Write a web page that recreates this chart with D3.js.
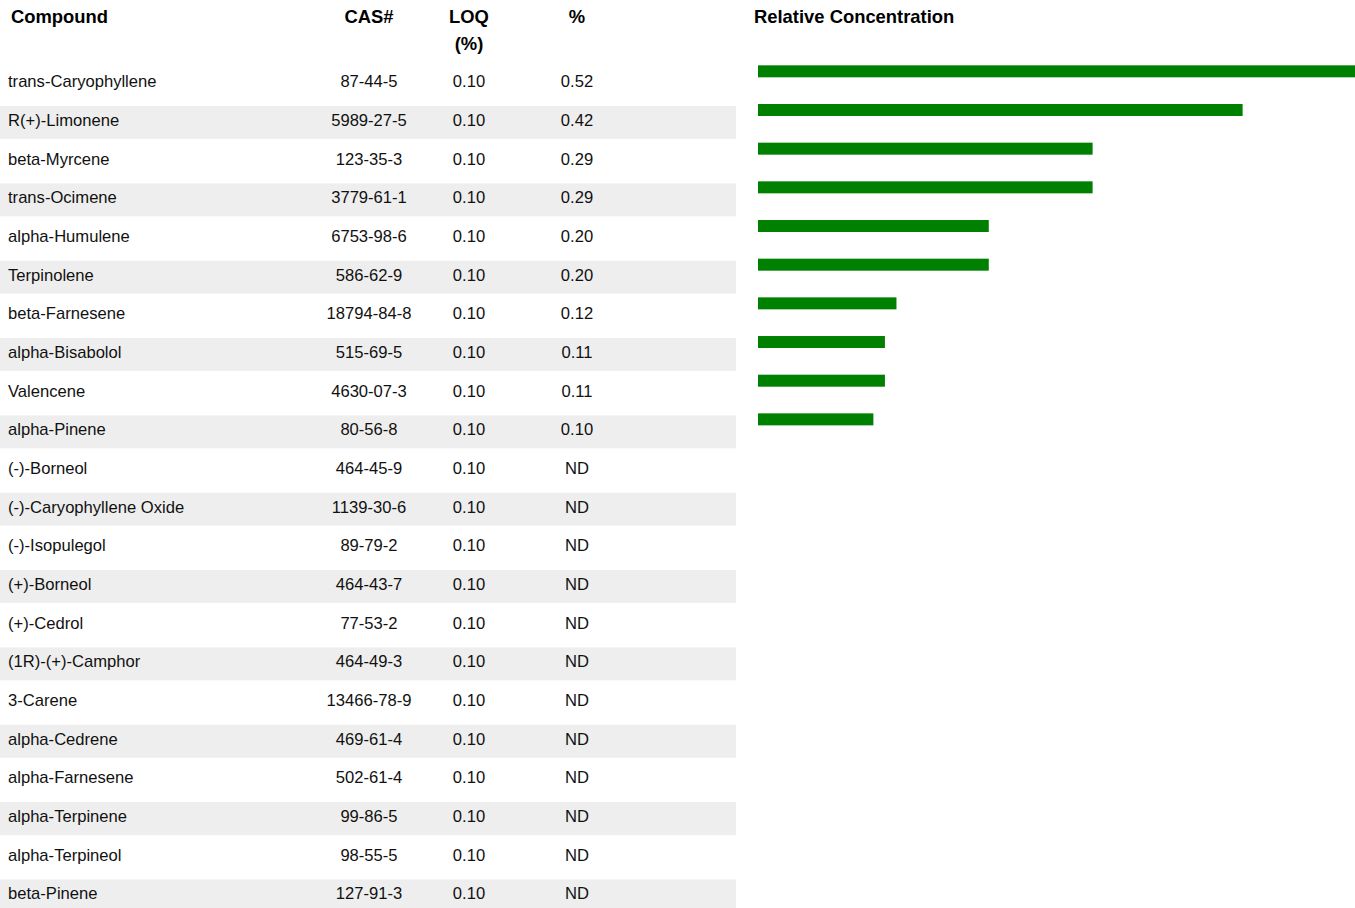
<!DOCTYPE html>
<html>
<head>
<meta charset="utf-8">
<script src="https://cdn.jsdelivr.net/npm/d3@7"></script>
<style>
  body { margin: 0; background: #fff; }
  svg { display: block; font-family: 'Liberation Sans', Arial, sans-serif; }
  .head { font-weight: bold; font-size: 18.4px; fill: #000; }
  .cell { font-size: 16.6px; fill: #111; }
</style>
</head>
<body>
<svg id="terpenes"></svg>
<script>
const size = {w: 1355, h: 908};

// table columns
const compounds = ['trans-Caryophyllene', 'R(+)-Limonene', 'beta-Myrcene', 'trans-Ocimene',
    'alpha-Humulene', 'Terpinolene', 'beta-Farnesene', 'alpha-Bisabolol', 'Valencene',
    'alpha-Pinene', '(-)-Borneol', '(-)-Caryophyllene Oxide', '(-)-Isopulegol', '(+)-Borneol',
    '(+)-Cedrol', '(1R)-(+)-Camphor', '3-Carene', 'alpha-Cedrene', 'alpha-Farnesene',
    'alpha-Terpinene', 'alpha-Terpineol', 'beta-Pinene'];
const casNumbers = ['87-44-5', '5989-27-5', '123-35-3', '3779-61-1', '6753-98-6', '586-62-9',
    '18794-84-8', '515-69-5', '4630-07-3', '80-56-8', '464-45-9', '1139-30-6', '89-79-2',
    '464-43-7', '77-53-2', '464-49-3', '13466-78-9', '469-61-4', '502-61-4', '99-86-5',
    '98-55-5', '127-91-3'];
const loq = [0.10, 0.10, 0.10, 0.10, 0.10, 0.10, 0.10, 0.10, 0.10, 0.10, 0.10,
    0.10, 0.10, 0.10, 0.10, 0.10, 0.10, 0.10, 0.10, 0.10, 0.10, 0.10];
// null = ND (not detected)
const percent = [0.52, 0.42, 0.29, 0.29, 0.20, 0.20, 0.12, 0.11, 0.11, 0.10,
    null, null, null, null, null, null, null, null, null, null, null, null];

const headers = [
    {lines: ['Compound'], x: 11, anchor: 'start'},
    {lines: ['CAS#'], x: 369, anchor: 'middle'},
    {lines: ['LOQ', '(%)'], x: 469, anchor: 'middle'},
    {lines: ['%'], x: 577, anchor: 'middle'}
];

const rows = compounds.map((name, i) => ({
    name: name,
    cas: casNumbers[i],
    loq: loq[i],
    pct: percent[i],
    i: i
}));

const svg = d3.select('svg#terpenes')
    .attr('width', size.w)
    .attr('height', size.h);

// one band per table row
const rowTop = 67.33, rowStep = 38.67;
const y = d3.scaleBand()
    .domain(compounds)
    .range([rowTop, rowTop + rowStep * compounds.length]);

// bar length scale
const x = d3.scaleLinear()
    .domain([0, 0.52])
    .range([758, 1358]);

// zebra stripes
svg.append('g')
    .classed('stripes', true)
    .selectAll('rect')
    .data(rows.filter(d => d.i % 2 === 1))
    .join('rect')
    .attr('x', 0)
    .attr('y', d => y(d.name))
    .attr('width', 736)
    .attr('height', 33)
    .attr('fill', '#eeeeee');

// header cells
svg.append('g')
    .classed('headers', true)
    .selectAll('text')
    .data(headers)
    .join('text')
    .classed('head', true)
    .attr('x', d => d.x)
    .attr('y', 23)
    .attr('text-anchor', d => d.anchor)
    .selectAll('tspan')
    .data(d => d.lines.map(l => ({l: l, x: d.x})))
    .join('tspan')
    .attr('x', d => d.x)
    .attr('dy', (d, i) => i === 0 ? 0 : 27)
    .text(d => d.l);

svg.append('text')
    .classed('head', true)
    .attr('x', 754)
    .attr('y', 23)
    .text('Relative Concentration');

// body cells
const rowG = svg.append('g')
    .classed('rows', true)
    .selectAll('g')
    .data(rows)
    .join('g')
    .attr('transform', d => `translate(0, ${y(d.name) + 20})`);

rowG.append('text').classed('cell', true)
    .attr('x', 8)
    .text(d => d.name);
rowG.append('text').classed('cell', true)
    .attr('x', 369).attr('text-anchor', 'middle')
    .text(d => d.cas);
rowG.append('text').classed('cell', true)
    .attr('x', 469).attr('text-anchor', 'middle')
    .text(d => d.loq.toFixed(2));
rowG.append('text').classed('cell', true)
    .attr('x', 577).attr('text-anchor', 'middle')
    .text(d => d.pct === null ? 'ND' : d.pct.toFixed(2));

// relative concentration bars
svg.append('g')
    .classed('bars', true)
    .selectAll('rect')
    .data(rows.filter(d => d.pct !== null))
    .join('rect')
    .attr('x', x(0))
    .attr('y', d => y(d.name) - 2)
    .attr('width', d => x(d.pct) - x(0))
    .attr('height', 12)
    .attr('fill', '#008000');
</script>
</body>
</html>
